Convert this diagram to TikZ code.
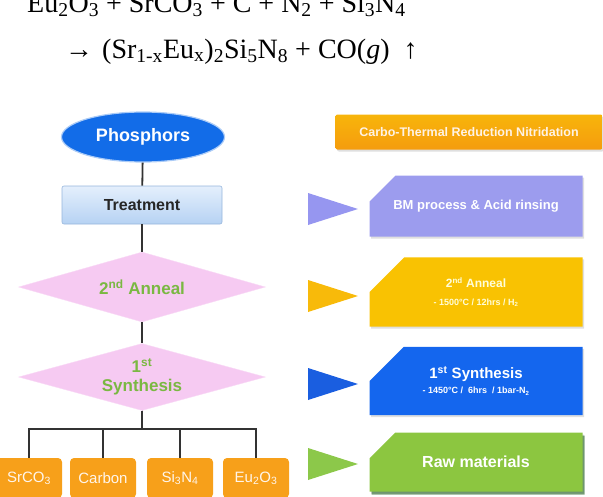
\documentclass[tikz,border=0pt]{standalone}
\usepackage{fontspec}
\setmainfont{Liberation Serif}
\setsansfont{Liberation Sans}
\usetikzlibrary{shapes.geometric, shapes.misc, positioning, shadows}

\definecolor{phosBlue}{RGB}{18,108,232}
\definecolor{treatTop}{RGB}{228,239,252}
\definecolor{treatBot}{RGB}{182,210,243}
\definecolor{treatEdge}{RGB}{150,182,220}
\definecolor{diaPink}{RGB}{246,202,242}
\definecolor{diaText}{RGB}{122,184,66}
\definecolor{rawOrange}{RGB}{247,160,26}
\definecolor{hdrOrange}{RGB}{245,156,14}
\definecolor{bmLav}{RGB}{156,156,238}
\definecolor{annYel}{RGB}{249,194,2}
\definecolor{synBlue}{RGB}{20,102,238}
\definecolor{rawGreen}{RGB}{140,198,64}
\definecolor{triLav}{RGB}{150,150,240}
\definecolor{triYel}{RGB}{248,186,10}
\definecolor{triBlu}{RGB}{26,94,224}
\definecolor{triGrn}{RGB}{140,200,74}

\tikzset{
  %% Connector of the flow chart
  flow/.style={draw=black!80, line width=1.8pt},
  %% Start oval
  oval/.style={
    ellipse, fill=phosBlue, draw=phosBlue!35!white, line width=1.2pt,
    minimum width=163pt, minimum height=50pt, inner sep=0pt,
    text=white, font=\sffamily\bfseries\fontsize{18}{21}\selectfont
  },
  %% Process box
  pbox/.style={
    rectangle, rounded corners=2pt,
    top color=treatTop, bottom color=treatBot, draw=treatEdge,
    minimum width=160pt, minimum height=38pt, line width=0.6pt,
    font=\sffamily\bfseries\fontsize{16}{19}\selectfont, text=black!85
  },
  %% Decision diamond
  dia/.style={
    diamond, aspect=3.6, fill=diaPink, draw=diaPink!70!white,
    minimum width=247pt, minimum height=70pt, inner sep=0pt,
    align=center, text=diaText,
    font=\sffamily\bfseries\fontsize{17}{19}\selectfont
  },
  %% Raw material box
  raw/.style={
    rectangle, rounded corners=4pt, fill=rawOrange,
    minimum width=66pt, minimum height=40pt, inner sep=0pt,
    text=white!92!orange, font=\sffamily\fontsize{15}{18}\selectfont
  },
  %% Step description, chamfered
  desc/.style={
    chamfered rectangle, chamfered rectangle corners=north west,
    chamfered rectangle sep=20pt, fill=#1,
    minimum width=213pt, minimum height=61pt, inner sep=0pt,
    align=center, text=white,
    font=\sffamily\bfseries\fontsize{13}{16}\selectfont,
    drop shadow={opacity=0.25, shadow xshift=1.5pt, shadow yshift=-2pt}
  },
  desc/.default=bmLav,
  small/.style={font=\sffamily\bfseries\fontsize{9}{11}\selectfont},
  eqn/.style={anchor=base west, inner sep=0pt,
    font=\rmfamily\fontsize{28}{32}\selectfont}
}

\begin{document}
\begin{tikzpicture}[x=1pt, y=-1pt]
  \useasboundingbox (0,0) rectangle (603,496);

  % reaction
  \node[eqn] (eqA) at (27,12) {Eu\textsubscript{2}O\textsubscript{3} + SrCO\textsubscript{3} + C + N\textsubscript{2} + Si\textsubscript{3}N\textsubscript{4}};
  \node[eqn] (eqB) at (65,58) {→\hspace{9pt}(Sr\textsubscript{1-x}Eu\textsubscript{x})\textsubscript{2}Si\textsubscript{5}N\textsubscript{8} + CO(\textit{g})\hspace{14pt}↑};

  % flow chart
  \node[oval] (phos) at (143,137) {Phosphors};
  \node[pbox] (treat) at (142,205) {Treatment};
  \node[dia] (anneal) at (142,287) {2\textsuperscript{nd} Anneal};
  \node[dia, minimum height=67pt] (synth) at (142,377) {1\textsuperscript{st}\\Synthesis};

  \node[raw] (srco) at (29,478) {SrCO\textsubscript{3}};
  \node[raw] (carb) at (103,478) {Carbon};
  \node[raw] (sini) at (180,478) {Si\textsubscript{3}N\textsubscript{4}};
  \node[raw] (euox) at (256,478) {Eu\textsubscript{2}O\textsubscript{3}};

  \draw[flow] (phos) -- (treat);
  \draw[flow] (treat) -- (anneal);
  \draw[flow] (anneal) -- (synth);
  \foreach \b in {srco,carb,sini,euox}
    \draw[flow] (synth.south) -- ++(0,18) -| (\b.north);

  % steps
  \node[rectangle, rounded corners=2pt, top color=hdrOrange!75!yellow,
    bottom color=hdrOrange, minimum width=267pt, minimum height=35pt,
    text=white!90!orange, font=\sffamily\bfseries\fontsize{12.5}{15}\selectfont,
    drop shadow={opacity=0.25, shadow xshift=1.5pt, shadow yshift=-2pt}]
    (ctrn) at (469,132) {Carbo-Thermal Reduction Nitridation};
  \node[desc] (bm) at (476,206) {BM process \& Acid rinsing};
  \node[desc=annYel, text=white!85!yellow] (ann2) at (476,292)
    {\fontsize{12}{15}\selectfont 2\textsuperscript{nd} Anneal\\[2pt]{\small - 1500°C / 12hrs / H\textsubscript{2}}};
  \node[desc=synBlue] (syn1) at (476,381)
    {\fontsize{15}{18}\selectfont 1\textsuperscript{st} Synthesis\\[-1pt]{\small - 1450°C /\ \ 6hrs\ \ / 1bar-N\textsubscript{2}}};
  \node[desc=rawGreen, minimum height=59pt,
    drop shadow={opacity=0.5, fill=green!30!black, shadow xshift=2pt, shadow yshift=-3pt}]
    (rawm) at (476,462) {\fontsize{16}{19}\selectfont Raw materials};

  % pointers
  \foreach \yc/\col in {209/triLav, 296/triYel, 384/triBlu, 464/triGrn}
    \fill[\col] (308,\yc-16) -- (358,\yc) -- (308,\yc+16) -- cycle;
\end{tikzpicture}
\end{document}
